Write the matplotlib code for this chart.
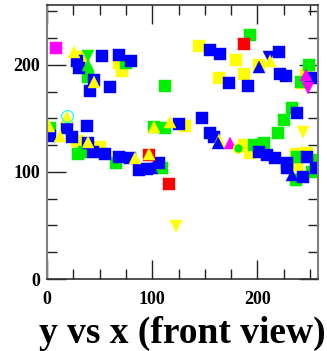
import matplotlib
matplotlib.use("Agg")
import matplotlib.pyplot as plt
from matplotlib.ticker import MultipleLocator

# ---- data: (x, y) per marker style/colour ----
yellow_sq_x = [34.6, 68.6, 71.0, 144.8, 180.0, 201.0, 187.0, 163.8, 245.7, 242.5,
               28.3, 50.5, 131.5, 187.0, 193.3, 236.2, 246.7, 237.8]
yellow_sq_y = [207.0, 201.6, 194.4, 217.8, 204.7, 200.0, 191.3, 187.6, 190.7, 183.0,
               129.0, 123.7, 142.7, 125.2, 117.5, 116.8, 117.5, 106.5]

green_sq_x = [39.4, 75.2, 193.3, 248.9, 241.0, 2.9, 29.8, 35.5, 65.4, 109.2, 101.3,
              111.7, 112.4, 232.4, 225.0, 219.3, 196.5, 206.0, 237.8, 255.2, 236.2, 252.0]
green_sq_y = [189.0, 201.6, 228.0, 200.0, 184.4, 140.8, 116.5, 119.0, 108.1, 104.0, 142.3,
              141.4, 180.4, 159.5, 148.6, 136.7, 125.2, 127.4, 114.3, 111.2, 92.5, 100.0]

blue_sq_x = [28.3, 30.8, 52.0, 68.6, 80.0, 45.0, 41.0, 60.0, 154.6, 164.8, 220.3, 172.7,
             190.8, 221.2, 226.7, 250.5, 18.7, 37.8, 2.9, 23.5, 39.4, 44.0, 55.2, 68.0,
             79.0, 87.0, 95.0, 106.0, 125.0, 147.3, 154.6, 158.4, 201.2, 209.2, 217.1,
             227.6, 227.6, 246.7, 243.5, 255.2, 237.1]
blue_sq_y = [203.7, 197.0, 208.4, 209.0, 203.7, 186.0, 175.7, 179.0, 214.0, 210.3, 211.9, 182.9,
             180.7, 191.3, 189.7, 187.6, 141.4, 143.0, 134.0, 133.0, 126.8, 119.0, 116.5, 114.3,
             112.8, 101.9, 102.5, 108.1, 144.6, 150.2, 136.2, 133.0, 119.0, 115.9, 112.8,
             108.7, 103.5, 113.7, 95.6, 103.5, 155.4]

red_sq_x = [187.0, 96.5, 116.2]
red_sq_y = [219.6, 115.9, 88.8]

magenta_sq_x = [8.3]
magenta_sq_y = [215.6]

yellow_up_x = [26.0, 45.0, 18.7, 12.4, 2.0, 39.4, 83.8, 96.5, 101.3, 117.0, 211.5, 163.5]
yellow_up_y = [212.0, 184.4, 151.7, 134.0, 143.0, 128.0, 112.8, 117.0, 142.3, 147.0, 203.5, 130.0]

yellow_down_x = [122.9, 243.5]
yellow_down_y = [49.5, 137.7]

blue_up_x = [201.0, 162.2, 233.0, 100.0]
blue_up_y = [198.4, 127.4, 97.2, 104.0]

blue_down_x = [210.5]
blue_down_y = [207.5]

green_up_x = [39.4]
green_up_y = [200.0]

green_down_x = [39.4]
green_down_y = [208.0]

magenta_up_x = [246.4, 174.3]
magenta_up_y = [191.0, 126.8]

magenta_down_x = [248.0]
magenta_down_y = [178.8]

green_circle_x = [181.2]
green_circle_y = [122.7]

cyan_ring_x = [18.7]
cyan_ring_y = [152.0]

BLUE, GREEN, YELLOW = "#0000ff", "#00f000", "#ffff00"
RED, MAGENTA, CYAN = "#ff0000", "#ff00ff", "#00ffff"

W, H, DPI = 327, 351, 100
fig = plt.figure(figsize=(W / DPI, H / DPI), dpi=DPI)
ax = fig.add_axes([47 / W, 1 - 279 / H, (318 - 47) / W, (279 - 5) / H])

ms = 8.2
layers = [
    (yellow_sq_x, yellow_sq_y, "s", YELLOW),
    (green_sq_x, green_sq_y, "s", GREEN),
    (blue_sq_x, blue_sq_y, "s", BLUE),
    (red_sq_x, red_sq_y, "s", RED),
    (magenta_sq_x, magenta_sq_y, "s", MAGENTA),
    (blue_down_x, blue_down_y, "v", BLUE),
    (yellow_up_x, yellow_up_y, "^", YELLOW),
    (yellow_down_x, yellow_down_y, "v", YELLOW),
    (blue_up_x, blue_up_y, "^", BLUE),
    (green_up_x, green_up_y, "^", GREEN),
    (green_down_x, green_down_y, "v", GREEN),
    (magenta_up_x, magenta_up_y, "^", MAGENTA),
    (magenta_down_x, magenta_down_y, "v", MAGENTA),
]
for xs, ys, mk, col in layers:
    ax.plot(xs, ys, linestyle="none", marker=mk, markersize=ms,
            markerfacecolor=col, markeredgecolor=col, markeredgewidth=0.3)

ax.plot(green_circle_x, green_circle_y, linestyle="none", marker="o", markersize=7,
        markerfacecolor=GREEN, markeredgecolor=YELLOW, markeredgewidth=1.0)
ax.plot(cyan_ring_x, cyan_ring_y, linestyle="none", marker="o", markersize=8.5,
        markerfacecolor="none", markeredgecolor=CYAN, markeredgewidth=0.8)

ax.set_xlim(0, 257.5)
ax.set_ylim(0, 256)

ax.xaxis.set_major_locator(MultipleLocator(100))
ax.xaxis.set_minor_locator(MultipleLocator(25))
ax.yaxis.set_major_locator(MultipleLocator(100))
ax.yaxis.set_minor_locator(MultipleLocator(25))

ax.tick_params(which="both", direction="in", top=True, right=True,
               color="#222222", width=1.0)
ax.tick_params(which="major", length=13.5)
ax.tick_params(which="minor", length=7.0)
ax.tick_params(axis="x", which="major", pad=9)
ax.tick_params(axis="y", which="major", pad=5)

for side in ("left", "right"):
    ax.spines[side].set_color("#808080")
    ax.spines[side].set_linewidth(1.5)
for side in ("top", "bottom"):
    ax.spines[side].set_color("#333333")
    ax.spines[side].set_linewidth(1.2)

for lab in ax.get_xticklabels() + ax.get_yticklabels():
    lab.set_fontfamily("Liberation Serif")
    lab.set_fontweight("bold")
    lab.set_fontsize(13)

fig.text(182 / W, 1 - 343 / H, "y vs x (front view)", ha="center", va="baseline",
         fontfamily="Liberation Serif", fontweight="bold", fontsize=27)

fig.savefig("out.png", dpi=DPI, facecolor="white")
